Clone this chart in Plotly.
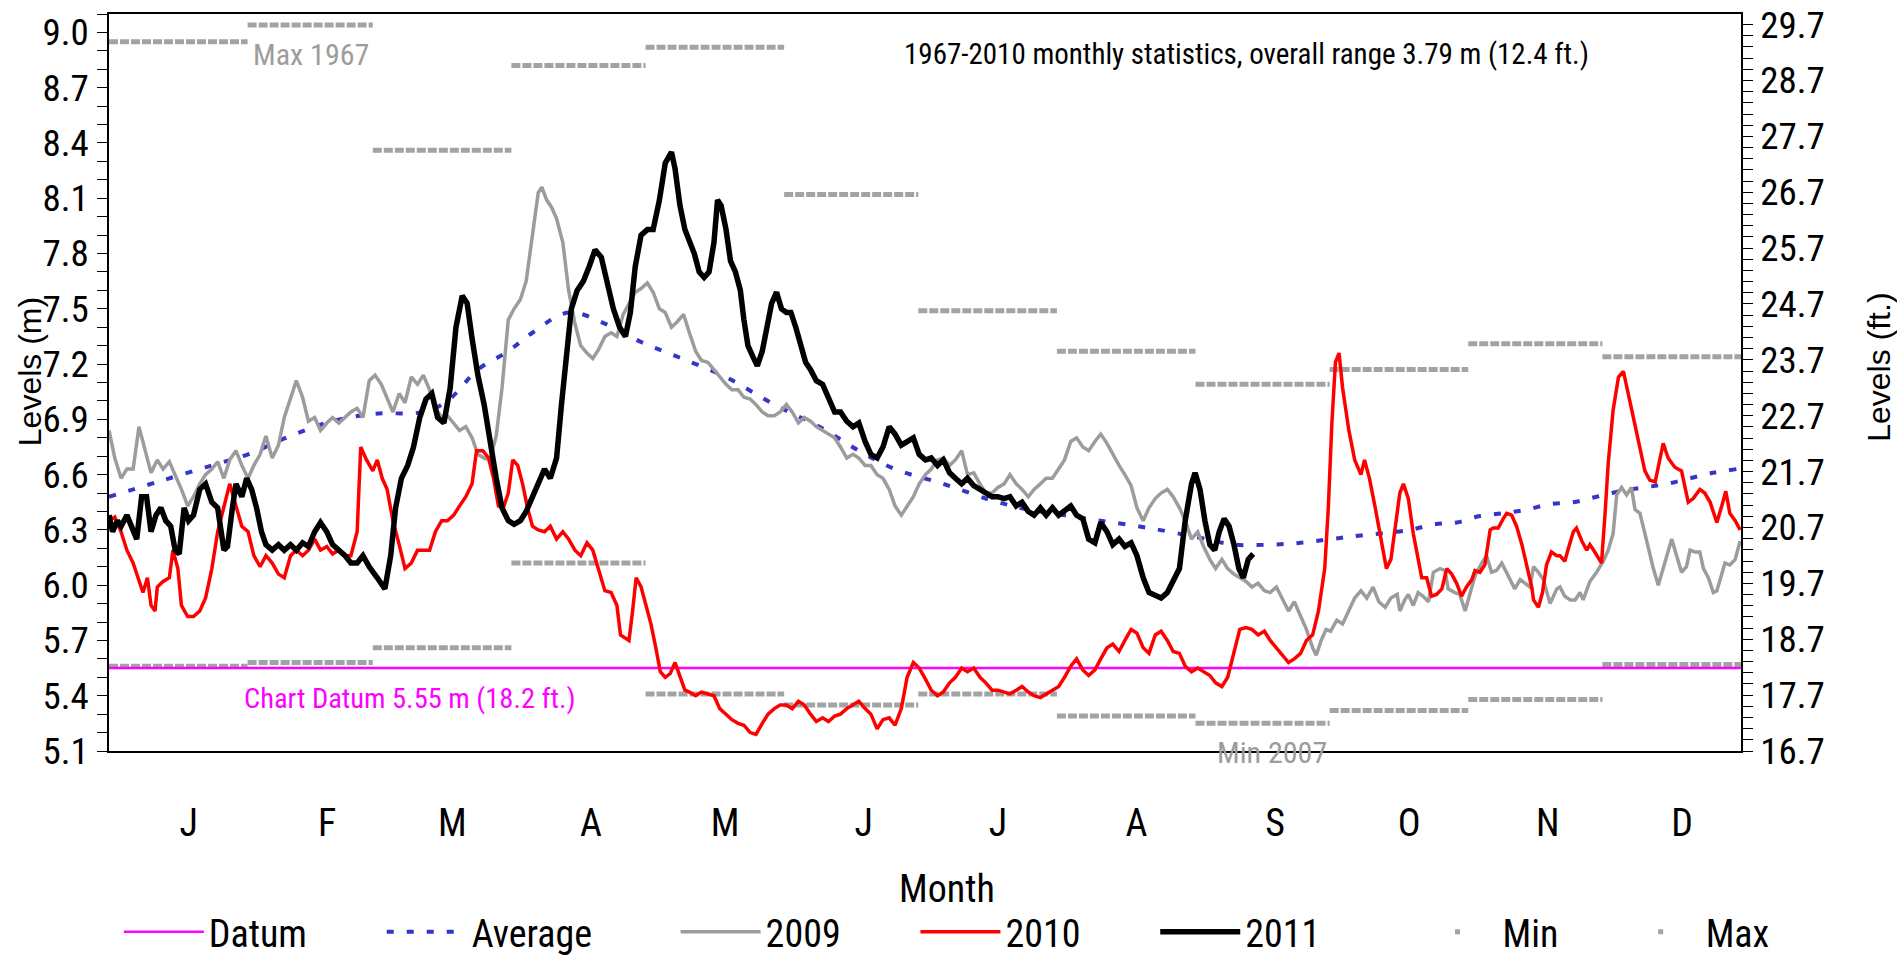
import plotly.graph_objects as go

# ---------------- data ----------------
months = ["J", "F", "M", "A", "M", "J", "J", "A", "S", "O", "N", "D"]
month_len = [31, 28, 31, 30, 31, 30, 31, 31, 30, 31, 30, 31]
max_lvl = [8.95, 9.04, 8.36, 8.82, 8.92, 8.12, 7.49, 7.27, 7.09, 7.17, 7.31, 7.24]
min_lvl = [5.56, 5.58, 5.66, 6.12, 5.41, 5.35, 5.41, 5.29, 5.25, 5.32, 5.38, 5.57]
datum_m = 5.55
year_days = 365
legend_names = ["Datum", "Average", "2009", "2010", "2011", "Min", "Max"]

# (day of year, level m)
avg_pts = [(0, 6.48), (10.8, 6.56), (23, 6.65), (31.1, 6.71), (40.6, 6.81), (50, 6.89),
           (59.5, 6.93), (70.3, 6.94), (75.7, 7.00), (82.5, 7.17), (89.3, 7.27), (94.7, 7.37),
           (102.8, 7.48), (110.9, 7.42), (119, 7.32), (127.1, 7.24), (137.9, 7.13), (148.8, 6.98),
           (159.6, 6.85), (167.7, 6.73), (175.8, 6.63), (186.6, 6.55), (197.5, 6.46), (205.6, 6.41),
           (213.7, 6.38), (221.8, 6.35), (232.6, 6.31), (243.5, 6.26), (251.6, 6.22), (259.7, 6.22),
           (266.5, 6.23), (273.2, 6.25), (280, 6.27), (291.0, 6.30), (296.2, 6.33), (301.4, 6.34),
           (306.6, 6.375), (311.8, 6.39), (317.1, 6.41), (322.3, 6.44), (327.5, 6.45), (332.7, 6.48),
           (337.9, 6.51), (343.2, 6.53), (348.4, 6.55), (353.6, 6.58), (358.8, 6.61), (364, 6.63)]

lvl_2009 = [(0, 6.84), (1.3, 6.69), (2.7, 6.58), (4.0, 6.63), (5.4, 6.63), (6.7, 6.86), (8.1, 6.73),
            (9.4, 6.61), (10.8, 6.68), (12.1, 6.63), (13.5, 6.67), (14.8, 6.60), (16.2, 6.52),
            (17.6, 6.43), (18.9, 6.48), (20.3, 6.55), (21.6, 6.60), (23.0, 6.63), (24.3, 6.67),
            (25.7, 6.58), (27.0, 6.68), (28.4, 6.73), (29.7, 6.65), (31.1, 6.58), (32.4, 6.65),
            (33.8, 6.71), (35.1, 6.81), (36.5, 6.69), (37.9, 6.76), (39.2, 6.91), (40.6, 7.01),
            (41.9, 7.11), (43.3, 7.02), (44.6, 6.89), (46.0, 6.91), (47.3, 6.84), (48.7, 6.88),
            (50.0, 6.91), (51.4, 6.88), (52.8, 6.91), (54.1, 6.94), (55.5, 6.96), (56.8, 6.91),
            (58.2, 7.11), (59.5, 7.14), (60.9, 7.09), (62.2, 7.01), (63.5, 6.94), (64.9, 7.04),
            (66.2, 6.99), (67.6, 7.13), (69.0, 7.09), (70.3, 7.14), (71.7, 7.06), (73.0, 6.96),
            (74.4, 6.91), (75.7, 6.92), (77.1, 6.88), (78.4, 6.84), (79.8, 6.86), (81.2, 6.80),
            (82.5, 6.71), (83.9, 6.69), (85.2, 6.68), (86.6, 6.81), (87.9, 7.07), (89.3, 7.44),
            (90.6, 7.50), (92.0, 7.55), (93.3, 7.65), (94.7, 7.90), (96.0, 8.13), (96.8, 8.16),
            (97.9, 8.09), (99.0, 8.05), (100.1, 7.99), (101.5, 7.86), (102.8, 7.60), (104.2, 7.42),
            (105.5, 7.30), (106.9, 7.26), (108.2, 7.23), (109.5, 7.28), (110.9, 7.35), (112.3, 7.37),
            (113.6, 7.35), (115.0, 7.47), (116.3, 7.53), (117.7, 7.59), (119.0, 7.61), (120.4, 7.64),
            (121.7, 7.59), (123.1, 7.50), (124.4, 7.48), (125.8, 7.40), (127.1, 7.43), (128.5, 7.47),
            (129.8, 7.37), (131.2, 7.27), (132.5, 7.22), (133.9, 7.21), (135.3, 7.17), (136.6, 7.13),
            (138.0, 7.09), (139.3, 7.06), (140.7, 7.06), (142.0, 7.02), (143.4, 7.01), (144.7, 6.98),
            (146.1, 6.94), (147.4, 6.92), (148.8, 6.92), (150.1, 6.94), (151.5, 6.98), (152.8, 6.94),
            (154.2, 6.88), (155.5, 6.91), (156.9, 6.89), (158.2, 6.86), (159.6, 6.84), (160.9, 6.82),
            (162.3, 6.80), (163.6, 6.75), (165.0, 6.69), (166.4, 6.71), (167.7, 6.69), (169.1, 6.65),
            (170.4, 6.65), (171.8, 6.60), (173.1, 6.58), (174.5, 6.52), (175.8, 6.43), (177.2, 6.38),
            (178.5, 6.43), (179.9, 6.48), (181.2, 6.55), (182.6, 6.60), (183.9, 6.63), (185.3, 6.68),
            (186.6, 6.69), (188.0, 6.65), (189.3, 6.68), (190.7, 6.73), (192.0, 6.60), (193.4, 6.61),
            (194.8, 6.55), (196.1, 6.50), (197.5, 6.50), (198.8, 6.53), (200.2, 6.55), (201.5, 6.60),
            (202.9, 6.55), (204.2, 6.52), (205.6, 6.48), (206.9, 6.52), (208.3, 6.55), (209.6, 6.58),
            (211.0, 6.58), (212.4, 6.63), (213.7, 6.68), (215.1, 6.78), (216.4, 6.80), (217.8, 6.75),
            (219.1, 6.73), (220.5, 6.78), (221.8, 6.82), (223.2, 6.77), (224.5, 6.71), (225.9, 6.65),
            (227.2, 6.60), (228.6, 6.54), (229.9, 6.42), (231.3, 6.35), (232.6, 6.42), (234.0, 6.47),
            (235.3, 6.50), (236.7, 6.52), (238.0, 6.48), (239.4, 6.42), (240.7, 6.35), (242.1, 6.25),
            (243.5, 6.29), (244.8, 6.21), (246.2, 6.14), (247.5, 6.09), (248.9, 6.14), (250.2, 6.09),
            (251.6, 6.06), (252.9, 6.04), (254.3, 6.02), (255.6, 5.99), (257.0, 6.01), (258.4, 5.97),
            (259.7, 5.96), (261.1, 5.99), (262.4, 5.93), (263.8, 5.86), (265.1, 5.91), (266.5, 5.83),
            (267.8, 5.76), (269.2, 5.66), (270.0, 5.62), (271.1, 5.70), (272.2, 5.76), (273.2, 5.75),
            (274.6, 5.81), (275.9, 5.79), (277.3, 5.86), (278.6, 5.93), (280.0, 5.97), (281.3, 5.93),
            (282.7, 5.99), (284.0, 5.91), (285.4, 5.88), (286.7, 5.93), (288.1, 5.95), (288.7, 5.86),
            (289.8, 5.92), (290.6, 5.95), (291.7, 5.89), (292.8, 5.96), (293.9, 5.94), (295.1, 5.91),
            (296.2, 6.07), (297.7, 6.09), (298.8, 6.08), (299.5, 5.98), (301.0, 5.96), (302.1, 5.95),
            (303.3, 5.86), (304.4, 5.96), (305.5, 6.05), (307.0, 6.12), (308.1, 6.16), (309.2, 6.07),
            (310.3, 6.08), (311.5, 6.12), (312.6, 6.07), (313.7, 6.01), (314.4, 5.98), (315.6, 6.03),
            (316.7, 6.01), (317.8, 5.99), (318.6, 6.10), (319.7, 6.07), (320.8, 6.03), (322.3, 5.90),
            (323.8, 5.98), (324.5, 5.99), (325.6, 5.94), (326.8, 5.92), (327.9, 5.92), (329.0, 5.96),
            (329.7, 5.92), (331.2, 6.02), (332.7, 6.07), (334.2, 6.13), (335.3, 6.19), (336.4, 6.28),
            (337.2, 6.49), (338.3, 6.53), (339.4, 6.49), (340.5, 6.53), (341.3, 6.41), (342.4, 6.39),
            (343.9, 6.24), (345.4, 6.09), (346.5, 6.00), (347.6, 6.09), (348.7, 6.18), (349.5, 6.25),
            (350.6, 6.16), (351.7, 6.07), (352.8, 6.10), (353.6, 6.19), (354.7, 6.18), (355.8, 6.18),
            (356.6, 6.09), (357.7, 6.04), (358.8, 5.96), (359.6, 5.97), (360.7, 6.06), (361.4, 6.12),
            (362.5, 6.11), (363.7, 6.14), (364.8, 6.24)]

lvl_2010 = [(0.0, 6.35), (1.3, 6.37), (2.7, 6.29), (4.0, 6.19), (5.4, 6.12), (6.7, 6.02), (7.6, 5.96),
            (8.6, 6.04), (9.4, 5.89), (10.3, 5.86), (10.8, 5.99), (12.1, 6.02), (13.5, 6.04),
            (14.3, 6.19), (15.4, 6.09), (16.2, 5.89), (17.6, 5.83), (18.9, 5.83), (20.3, 5.86),
            (21.6, 5.93), (23.0, 6.09), (24.3, 6.29), (25.7, 6.42), (27.0, 6.55), (28.4, 6.43),
            (29.7, 6.32), (31.1, 6.29), (32.4, 6.16), (33.8, 6.10), (35.1, 6.16), (36.5, 6.12),
            (37.9, 6.06), (39.2, 6.04), (40.6, 6.16), (41.9, 6.19), (43.3, 6.16), (44.6, 6.19),
            (46.0, 6.25), (47.3, 6.19), (48.7, 6.21), (50.0, 6.17), (51.4, 6.19), (52.8, 6.16),
            (54.1, 6.16), (55.5, 6.29), (56.3, 6.75), (57.6, 6.68), (59.0, 6.62), (60.0, 6.68),
            (61.1, 6.58), (62.2, 6.52), (63.5, 6.35), (64.9, 6.22), (66.2, 6.09), (67.6, 6.12),
            (69.0, 6.19), (70.3, 6.19), (71.7, 6.19), (73.0, 6.29), (74.4, 6.35), (75.7, 6.35),
            (77.1, 6.38), (78.4, 6.43), (79.8, 6.48), (81.2, 6.55), (82.2, 6.73), (83.6, 6.73),
            (84.9, 6.69), (86.0, 6.58), (87.1, 6.43), (88.2, 6.42), (89.3, 6.50), (90.3, 6.68),
            (91.4, 6.65), (92.5, 6.55), (93.6, 6.42), (94.7, 6.32), (96.0, 6.30), (97.4, 6.29),
            (98.7, 6.32), (100.1, 6.25), (101.5, 6.29), (102.8, 6.25), (104.2, 6.19), (105.5, 6.16),
            (106.9, 6.23), (108.2, 6.19), (109.5, 6.09), (110.9, 5.97), (112.3, 5.96), (113.6, 5.89),
            (114.4, 5.73), (115.5, 5.71), (116.3, 5.70), (117.1, 5.86), (117.9, 6.04), (119.0, 5.99),
            (120.1, 5.89), (121.2, 5.79), (122.3, 5.66), (123.3, 5.53), (124.4, 5.50), (125.5, 5.52),
            (126.6, 5.58), (127.7, 5.50), (128.8, 5.43), (129.8, 5.42), (131.2, 5.40), (132.5, 5.42),
            (133.9, 5.41), (135.3, 5.40), (136.6, 5.33), (138.0, 5.30), (139.3, 5.27), (140.7, 5.25),
            (142.0, 5.24), (143.4, 5.20), (144.7, 5.19), (146.1, 5.25), (147.4, 5.30), (148.8, 5.33),
            (150.1, 5.35), (151.5, 5.35), (152.8, 5.33), (154.2, 5.37), (155.5, 5.35), (156.9, 5.30),
            (158.2, 5.26), (159.6, 5.28), (160.9, 5.26), (162.3, 5.29), (163.6, 5.30), (165.0, 5.33),
            (166.4, 5.35), (167.7, 5.37), (169.1, 5.33), (170.4, 5.30), (171.8, 5.22), (173.1, 5.27),
            (174.5, 5.28), (175.8, 5.24), (177.2, 5.33), (178.5, 5.50), (179.9, 5.58), (181.2, 5.55),
            (182.6, 5.49), (183.9, 5.43), (185.3, 5.40), (186.6, 5.42), (188.0, 5.47), (189.3, 5.50),
            (190.7, 5.55), (192.0, 5.53), (193.4, 5.55), (194.8, 5.50), (196.1, 5.47), (197.5, 5.43),
            (198.8, 5.43), (200.2, 5.42), (201.5, 5.41), (202.9, 5.43), (204.2, 5.45), (205.6, 5.42),
            (206.9, 5.40), (208.3, 5.39), (209.6, 5.41), (211.0, 5.43), (212.4, 5.45), (213.7, 5.50),
            (215.1, 5.56), (216.4, 5.60), (217.8, 5.54), (219.1, 5.51), (220.5, 5.54), (221.8, 5.60),
            (223.2, 5.66), (224.5, 5.68), (225.9, 5.64), (227.2, 5.70), (228.6, 5.76), (229.9, 5.74),
            (231.3, 5.66), (232.6, 5.63), (234.0, 5.73), (235.3, 5.75), (236.7, 5.70), (238.0, 5.64),
            (239.4, 5.63), (240.7, 5.56), (242.1, 5.53), (243.5, 5.55), (244.8, 5.53), (246.2, 5.51),
            (247.5, 5.47), (248.9, 5.45), (250.2, 5.50), (251.6, 5.63), (252.9, 5.76), (254.3, 5.77),
            (255.6, 5.76), (257.0, 5.73), (258.4, 5.75), (259.7, 5.70), (261.1, 5.66), (262.4, 5.62),
            (263.8, 5.58), (265.1, 5.60), (266.5, 5.63), (267.8, 5.70), (269.2, 5.73), (270.5, 5.86),
            (271.9, 6.09), (272.7, 6.42), (273.5, 6.88), (274.3, 7.21), (275.1, 7.26), (275.9, 7.07),
            (277.3, 6.84), (278.6, 6.68), (280.0, 6.60), (280.8, 6.68), (281.9, 6.58), (283.2, 6.42),
            (284.6, 6.22), (285.7, 6.09), (286.7, 6.14), (287.8, 6.35), (288.7, 6.50), (289.5, 6.55),
            (290.6, 6.47), (291.7, 6.28), (292.8, 6.13), (293.6, 6.04), (294.7, 6.04), (295.8, 5.94),
            (296.9, 5.95), (298.1, 5.98), (299.2, 6.09), (300.3, 6.06), (301.4, 6.01), (302.5, 5.94),
            (303.6, 5.99), (304.8, 6.03), (305.5, 6.08), (306.6, 6.07), (307.7, 6.11), (308.9, 6.30),
            (309.6, 6.31), (310.7, 6.31), (311.8, 6.36), (312.6, 6.39), (313.7, 6.38), (314.8, 6.32),
            (316.0, 6.22), (317.1, 6.10), (318.2, 5.99), (318.6, 5.92), (319.7, 5.88), (320.6, 5.96),
            (321.5, 6.11), (322.6, 6.18), (323.8, 6.16), (324.5, 6.16), (325.6, 6.13), (326.4, 6.20),
            (327.5, 6.29), (328.2, 6.31), (329.4, 6.24), (330.5, 6.19), (331.2, 6.22), (332.3, 6.18),
            (333.8, 6.12), (334.6, 6.39), (335.3, 6.66), (336.4, 6.95), (337.6, 7.13), (338.7, 7.16),
            (339.8, 7.04), (340.9, 6.91), (342.4, 6.76), (343.5, 6.62), (344.6, 6.57), (345.8, 6.56),
            (347.6, 6.77), (348.7, 6.69), (350.2, 6.64), (351.7, 6.62), (353.2, 6.45), (354.3, 6.47),
            (355.8, 6.52), (356.9, 6.50), (358.1, 6.45), (359.6, 6.34), (360.7, 6.43), (361.6, 6.51),
            (362.5, 6.39), (363.7, 6.35), (364.8, 6.30)]

lvl_2011 = [(0, 6.38), (0.8, 6.29), (1.9, 6.35), (2.7, 6.32), (4.0, 6.38), (5.4, 6.29), (6.2, 6.25),
            (7.3, 6.48), (8.4, 6.48), (9.4, 6.29), (10.5, 6.38), (11.6, 6.42), (12.7, 6.35),
            (13.8, 6.32), (14.8, 6.19), (15.7, 6.17), (16.8, 6.42), (17.8, 6.35), (18.9, 6.38),
            (20.3, 6.52), (21.6, 6.55), (23.0, 6.45), (24.3, 6.42), (25.7, 6.19), (26.5, 6.21),
            (27.6, 6.42), (28.4, 6.55), (29.7, 6.48), (30.8, 6.58), (31.9, 6.52), (33.0, 6.42),
            (34.1, 6.29), (35.1, 6.22), (36.5, 6.19), (37.9, 6.22), (39.2, 6.19), (40.6, 6.22),
            (41.9, 6.19), (43.3, 6.23), (44.6, 6.21), (46.0, 6.29), (47.3, 6.34), (48.7, 6.29),
            (50.0, 6.22), (51.4, 6.19), (52.8, 6.16), (54.1, 6.12), (55.5, 6.12), (56.8, 6.16),
            (58.2, 6.10), (60.0, 6.04), (61.7, 5.98), (63.0, 6.16), (64.1, 6.42), (65.4, 6.58),
            (66.8, 6.65), (68.1, 6.75), (69.5, 6.91), (70.9, 7.01), (72.2, 7.04), (73.5, 6.91),
            (74.9, 6.88), (76.3, 7.07), (77.6, 7.40), (79.0, 7.57), (80.1, 7.53), (81.2, 7.34),
            (82.5, 7.14), (83.9, 6.98), (85.2, 6.78), (86.6, 6.58), (87.9, 6.42), (89.3, 6.35),
            (90.6, 6.33), (92.0, 6.35), (93.3, 6.40), (94.7, 6.48), (96.0, 6.56), (97.4, 6.63),
            (98.7, 6.58), (100.1, 6.69), (101.2, 6.98), (102.3, 7.27), (103.4, 7.50), (104.7, 7.60),
            (106.1, 7.65), (107.4, 7.73), (108.7, 7.82), (110.1, 7.78), (111.4, 7.65), (112.8, 7.50),
            (114.2, 7.40), (115.5, 7.35), (116.6, 7.48), (117.7, 7.73), (119.0, 7.90), (120.4, 7.93),
            (121.7, 7.93), (123.1, 8.09), (124.4, 8.29), (125.8, 8.35), (126.6, 8.26),
            (127.7, 8.06), (128.8, 7.93), (129.8, 7.86), (130.9, 7.80), (132.0, 7.70), (133.1, 7.67),
            (134.2, 7.70), (135.3, 7.86), (136.1, 8.09), (136.9, 8.06), (138.0, 7.93), (139.0, 7.76),
            (140.1, 7.70), (141.2, 7.60), (142.0, 7.44), (142.9, 7.30), (144.0, 7.24), (145.0, 7.19),
            (146.1, 7.27), (147.1, 7.40), (148.2, 7.53), (149.3, 7.59), (150.4, 7.50), (151.5, 7.48),
            (152.5, 7.48), (153.6, 7.40), (154.7, 7.30), (155.8, 7.21), (156.9, 7.17), (158.2, 7.11),
            (159.6, 7.09), (160.9, 7.01), (162.3, 6.94), (163.6, 6.94), (165.0, 6.89), (166.4, 6.86),
            (167.7, 6.88), (169.1, 6.78), (170.4, 6.71), (171.8, 6.69), (173.1, 6.75), (174.5, 6.86),
            (175.8, 6.82), (177.2, 6.76), (178.5, 6.78), (179.9, 6.80), (181.2, 6.71), (182.6, 6.68),
            (183.9, 6.69), (185.3, 6.65), (186.6, 6.68), (188.0, 6.61), (189.3, 6.58), (190.7, 6.55),
            (192.0, 6.58), (193.4, 6.54), (194.8, 6.52), (196.1, 6.50), (197.5, 6.48), (198.8, 6.48),
            (200.2, 6.47), (201.5, 6.48), (202.9, 6.43), (204.2, 6.45), (205.6, 6.40), (206.9, 6.38),
            (208.3, 6.42), (209.6, 6.38), (211.0, 6.42), (212.4, 6.38), (213.7, 6.40), (215.1, 6.43),
            (216.4, 6.38), (217.8, 6.36), (219.1, 6.25), (220.5, 6.23), (221.8, 6.34), (223.2, 6.29),
            (224.5, 6.22), (225.9, 6.25), (227.2, 6.21), (228.6, 6.23), (229.9, 6.16), (231.3, 6.04),
            (232.6, 5.96), (234.0, 5.94), (235.3, 5.93), (236.7, 5.96), (238.0, 6.02), (239.4, 6.09),
            (240.7, 6.35), (242.1, 6.55), (242.9, 6.61), (244.0, 6.52), (245.1, 6.35), (246.2, 6.22),
            (247.3, 6.19), (248.3, 6.29), (249.4, 6.36), (250.5, 6.32), (251.6, 6.22), (252.7, 6.09),
            (253.7, 6.04), (254.8, 6.14), (255.9, 6.17)]

# ---------------- styling ----------------
NARROW = "Liberation Sans Narrow, Arial Narrow, Roboto Condensed, DejaVu Sans Condensed, sans-serif"
REGULAR = "Liberation Sans, Arial, sans-serif"
GREY = "#9c9c9c"
STAT_GREY = "#a3a3a3"
legend_pad = [8, 9, 8, 8, 10, 6, 0]  # non-breaking spaces after each legend label

month_start = [sum(month_len[:i]) for i in range(12)]
lg = [n + "\u00a0" * p for n, p in zip(legend_names, legend_pad)]

def unzip(pts):
    return [p[0] for p in pts], [p[1] for p in pts]

fig = go.Figure()

def seg_xy(vals):
    xs, ys = [], []
    for s, n, v in zip(month_start, month_len, vals):
        xs += [s, s + n, None]
        ys += [v, v, None]
    return xs, ys

for vals in (max_lvl, min_lvl):
    sx, sy = seg_xy(vals)
    fig.add_trace(go.Scatter(x=sx, y=sy, mode="lines", showlegend=False, hoverinfo="skip",
                             line=dict(color=STAT_GREY, width=5, dash="9px,2px")))

fig.add_trace(go.Scatter(x=[0, year_days], y=[datum_m, datum_m], mode="lines", name=lg[0],
                         line=dict(color="#ff00ff", width=2.5), legendrank=1))
ax, ay = unzip(avg_pts)
fig.add_trace(go.Scatter(x=ax, y=ay, mode="lines", name=lg[1], legendrank=2,
                         line=dict(color="#3535c8", width=4, dash="7px,13px", shape="spline")))
x9, y9 = unzip(lvl_2009)
fig.add_trace(go.Scatter(x=x9, y=y9, mode="lines", name=lg[2], legendrank=3,
                         line=dict(color=GREY, width=3.5)))
x10, y10 = unzip(lvl_2010)
fig.add_trace(go.Scatter(x=x10, y=y10, mode="lines", name=lg[3], legendrank=4,
                         line=dict(color="#ff0000", width=3.5)))
x11, y11 = unzip(lvl_2011)
fig.add_trace(go.Scatter(x=x11, y=y11, mode="lines", name=lg[4], legendrank=5,
                         line=dict(color="#000000", width=5.5)))
fig.add_trace(go.Scatter(x=[None], y=[None], mode="markers", name=lg[5], legendrank=6,
                         marker=dict(symbol="square", size=5, color=STAT_GREY)))
fig.add_trace(go.Scatter(x=[None], y=[None], mode="markers", name=lg[6], legendrank=7,
                         marker=dict(symbol="square", size=5, color=STAT_GREY)))
fig.add_trace(go.Scatter(x=[None], y=[None], yaxis="y2", showlegend=False, hoverinfo="skip"))

y_lo, y_hi = 5.1, 9.1

def note(text, x, y, size, color, family=NARROW, angle=0):
    return dict(text=text, x=x, y=y, xref="paper", yref="paper", showarrow=False,
                xanchor="center", yanchor="middle", textangle=angle,
                font=dict(family=family, size=size, color=color))

fig.update_layout(
    width=1897, height=957,
    margin=dict(l=109, r=156, t=14, b=206, autoexpand=False),
    paper_bgcolor="white", plot_bgcolor="white",
    font=dict(family=NARROW, size=38, color="black"),
    showlegend=True,
    legend=dict(orientation="h", x=-0.0001, xanchor="left", y=-0.2456, yanchor="middle",
                font=dict(family=NARROW, size=38), itemwidth=80, borderwidth=10,
                bordercolor="rgba(0,0,0,0)", bgcolor="rgba(0,0,0,0)", tracegroupgap=0),
    xaxis=dict(range=[0, year_days], showgrid=False, zeroline=False, showline=True,
               linecolor="black", linewidth=1.5, mirror=True, ticks="", automargin=False,
               tickvals=[s + 17.8 for s in month_start], ticktext=months,
               tickfont=dict(family=NARROW, size=38), ticklabelstandoff=38),
    yaxis=dict(range=[y_lo, y_hi], showgrid=False, zeroline=False, showline=True, automargin=False,
               linecolor="black", linewidth=1.5, ticks="outside", ticklen=10, tickwidth=1.2,
               tickcolor="black", tick0=5.1, dtick=0.3, tickformat=".1f",
               minor=dict(ticks="outside", ticklen=10, tickwidth=1.2, tickcolor="black", dtick=0.1, tick0=5.1),
               tickfont=dict(family=NARROW, size=37), ticklabelstandoff=1),
    yaxis2=dict(overlaying="y", side="right", range=[16.7, 29.89], showgrid=False, zeroline=False,
                showline=True, linecolor="black", linewidth=1.5, ticks="outside", ticklen=10,
                tickwidth=1.2, tickcolor="black", tick0=16.7, dtick=1, tickformat=".1f", automargin=False,
                minor=dict(ticks="outside", ticklen=10, tickwidth=1.2, tickcolor="black", dtick=0.2, tick0=16.7),
                tickfont=dict(family=NARROW, size=37), ticklabelstandoff=0),
    annotations=[
        note("1967-2010 monthly statistics, overall range 3.79 m (12.4 ft.)", 0.6967, 0.9457, 29, "black"),
        note("Max 1967", 0.1238, 0.9457, 30, GREY),
        note("Min 2007", 0.7126, -0.002, 30, GREY),
        note("Chart Datum 5.55 m (18.2 ft.)", 0.1844, 0.0706, 28.5, "#ff00ff"),
        note("Levels (m)", -0.0484, 0.514, 32, "black", REGULAR, -90),
        note("Levels (ft.)", 1.0846, 0.52, 32, "black", REGULAR, -90),
        note("Month", 0.5135, -0.187, 38, "black"),
    ],
)

fig.write_html("out.html", config={"displayModeBar": False},
               post_script="document.body.style.margin='0px';document.body.style.padding='0px';")
